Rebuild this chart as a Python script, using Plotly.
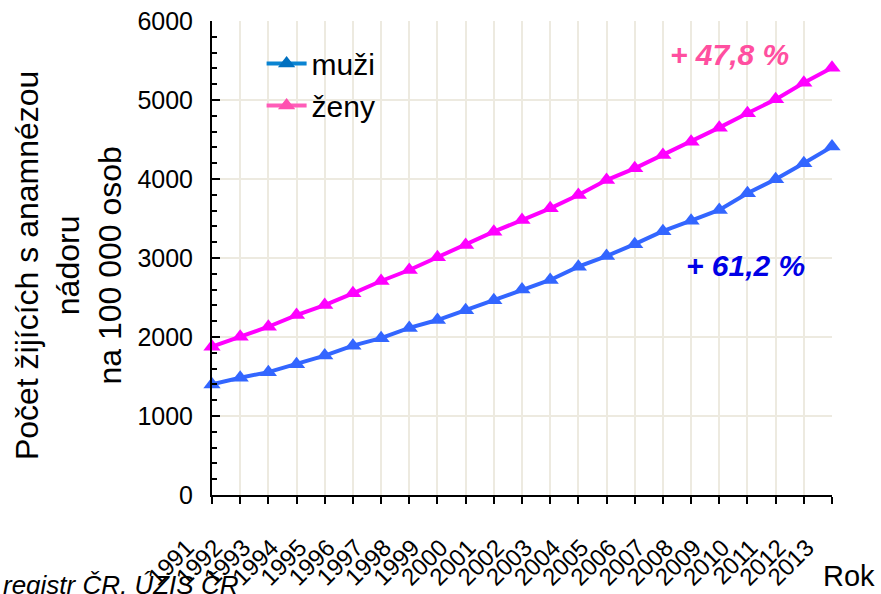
import plotly.graph_objects as go

years = [str(y) for y in range(1991, 2014)]
muzi = [1400, 1485, 1555, 1655, 1765, 1890, 1985, 2115, 2215, 2340, 2465, 2600,
        2722, 2890, 3025, 3175, 3340, 3473, 3608, 3819, 3996, 4200, 4410]
zeny = [1877, 2004, 2130, 2278, 2405, 2553, 2709, 2848, 3009, 3165, 3333, 3480,
        3629, 3797, 3987, 4135, 4304, 4473, 4650, 4832, 5008, 5219, 5409]
series_names = ["muži", "ženy"]
y_ticks = [0, 1000, 2000, 3000, 4000, 5000, 6000]
note_zeny = "+ 47,8 %"
note_muzi = "+ 61,2 %"

FONT = "Liberation Sans, Arial, sans-serif"
line_cols = ["#3366FF", "#FF00FF"]
legend_cols = ["#0A84D2", "#FF5CB8"]
legend_marker_cols = ["#0070C0", "#FF4FB0"]

fig = go.Figure()
for name, vals, col in zip(series_names, [muzi, zeny], line_cols):
    fig.add_trace(go.Scatter(
        x=years, y=vals, mode="lines+markers", name=name, showlegend=False,
        line=dict(color=col, width=4),
        marker=dict(symbol="triangle-up", size=15, color=col),
        cliponaxis=False,
    ))
for name, lc, mc in zip(series_names, legend_cols, legend_marker_cols):
    fig.add_trace(go.Scatter(
        x=[None], y=[None], mode="lines+markers", name=name,
        line=dict(color=lc, width=4),
        marker=dict(symbol="triangle-up", size=15, color=mc),
    ))

fig.update_layout(
    width=881, height=594,
    margin=dict(l=212, r=49, t=21, b=99, autoexpand=False),
    paper_bgcolor="white", plot_bgcolor="white",
    font=dict(family=FONT, color="black"),
    showlegend=True,
    legend=dict(x=0.08, y=0.965, xanchor="left", yanchor="top",
                bgcolor="rgba(0,0,0,0)", font=dict(size=30, family=FONT),
                itemwidth=40, tracegroupgap=0),
    xaxis=dict(
        type="category", range=[0, len(years) - 1],
        tickmode="array", tickvals=years, ticktext=years,
        automargin=False,
        showgrid=True, gridcolor="#EDEAE0", gridwidth=2,
        showline=True, linecolor="black", linewidth=2,
        ticks="outside", ticklen=7, tickwidth=1.5, tickcolor="black",
        tickangle=-45, tickfont=dict(size=24, family=FONT),
        ticklabelstandoff=20, ticklabelshift=-25,
        zeroline=False,
    ),
    yaxis=dict(
        range=[0, 6000], tickmode="array", tickvals=y_ticks,
        automargin=False,
        showgrid=True, gridcolor="#EDEAE0", gridwidth=2,
        showline=True, linecolor="black", linewidth=2,
        ticks="inside", ticklen=8, tickwidth=1.5, tickcolor="black",
        tickfont=dict(size=25, family=FONT),
        ticklabelstandoff=12,
        minor=dict(tickmode="linear", tick0=0, dtick=200, ticks="inside", ticklen=5,
                   tickwidth=1.5, tickcolor="black", showgrid=False),
        zeroline=False,
    ),
)

fig.add_annotation(
    text="Počet žijících s anamnézou<br>nádoru<br>na 100 000 osob",
    xref="paper", yref="paper", x=(68 - 212) / 620, y=0.485,
    xanchor="center", yanchor="middle", textangle=-90, showarrow=False,
    font=dict(size=32, family=FONT, color="black"),
)
fig.add_annotation(
    text=note_zeny, xref="paper", yref="paper", x=(729 - 212) / 620, y=(495 - 54) / 474,
    xanchor="center", yanchor="middle", showarrow=False,
    font=dict(size=30, family=FONT, color="#FF4FA0", weight="bold", style="italic"),
)
fig.add_annotation(
    text=note_muzi, xref="paper", yref="paper", x=(745 - 212) / 620, y=(495 - 265) / 474,
    xanchor="center", yanchor="middle", showarrow=False,
    font=dict(size=30, family=FONT, color="#0000E6", weight="bold", style="italic"),
)
fig.add_annotation(
    text="Rok", xref="paper", yref="paper", x=(877 - 212) / 620, y=(495 - 576) / 474,
    xanchor="right", yanchor="middle", showarrow=False,
    font=dict(size=29, family=FONT, color="black"),
)
fig.add_annotation(
    text="registr ČR, ÚZIS ČR", xref="paper", yref="paper", x=(1 - 212) / 620, y=(495 - 585) / 474,
    xanchor="left", yanchor="middle", showarrow=False,
    font=dict(size=26, family=FONT, color="black", style="italic"),
)

fig.write_html(
    "out.html",
    config={"displayModeBar": False},
    post_script="document.body.style.margin='0';document.body.style.overflow='hidden';",
)
